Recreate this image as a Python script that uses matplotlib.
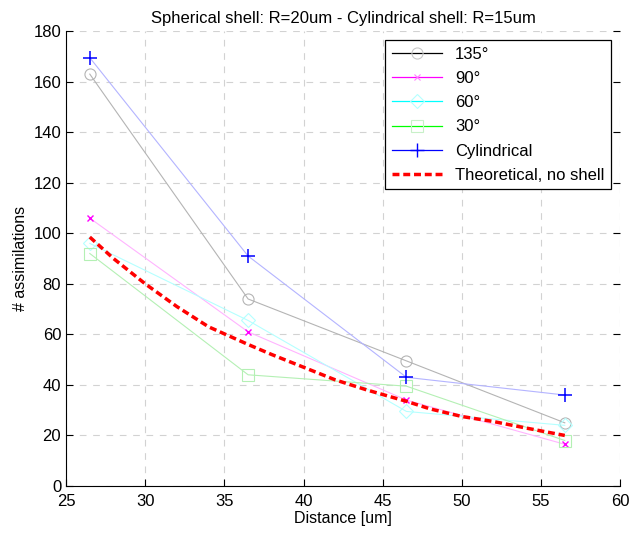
import matplotlib
matplotlib.use("Agg")
import matplotlib.pyplot as plt
from matplotlib.lines import Line2D

# distances of the simulated points
dist = [26.5, 36.5, 46.5, 56.5]

# number of assimilations per shell angle
deg135 = [163, 74, 49.5, 25]
deg90 = [106, 61, 34, 16.5]
deg60 = [96, 65.5, 29.5, 24]
deg30 = [92, 44, 39.5, 18]
cylindrical = [169.5, 91, 43, 36]

# theoretical curve (no shell)
theo_x = [26.5, 28, 30, 32, 34, 36.5, 38, 40, 42, 44, 46.5, 48, 50, 52, 54, 56.5]
theo_y = [98.5, 90, 80, 71, 63, 56, 52, 47, 42, 38, 33.5, 30.5, 27.5, 25.5, 23, 20]

labels = ["135°", "90°", "60°", "30°", "Cylindrical", "Theoretical, no shell"]

plt.rcParams["font.family"] = ["Liberation Sans", "DejaVu Sans"]
plt.rcParams["font.size"] = 11

fig = plt.figure(figsize=(6.29, 5.37), dpi=100)
ax = fig.add_axes([0.105, 0.095, 0.881, 0.847])

# faded lines, as in the original export
ax.plot(dist, deg135, color="#b4b4b4", lw=0.8, marker="o", ms=8,
        mfc="none", mec="#b4b4b4", mew=0.8)
ax.plot(dist, deg90, color="#ffb4ff", lw=0.8, marker="x", ms=4,
        mec="#ff00ff", mew=1.0)
ax.plot(dist, deg60, color="#b4ffff", lw=0.8, marker="D", ms=7,
        mfc="none", mec="#b4ffff", mew=0.8)
ax.plot(dist, deg30, color="#b4f0b4", lw=0.8, marker="s", ms=8,
        mfc="none", mec="#b4f0b4", mew=0.8)
ax.plot(dist, cylindrical, color="#b4b4ff", lw=0.8, marker="+", ms=10,
        mec="#0000ff", mew=1.1)
ax.plot(theo_x, theo_y, color="#ff0000", lw=2.5, ls=(0, (2, 1.1)))

handles = [
    Line2D([], [], color="black", lw=0.9, marker="o", ms=8, mfc="none",
           mec="#c8c8c8", mew=0.8),
    Line2D([], [], color="#ff00ff", lw=0.9, marker="x", ms=4,
           mec="#ff80ff", mew=0.8),
    Line2D([], [], color="#00ffff", lw=0.9, marker="D", ms=7, mfc="none",
           mec="#b4ffff", mew=0.8),
    Line2D([], [], color="#00ff00", lw=0.9, marker="s", ms=8, mfc="none",
           mec="#c8f0c8", mew=0.8),
    Line2D([], [], color="#0000ff", lw=0.9, marker="+", ms=10,
           mec="#0000ff", mew=1.0),
    Line2D([], [], color="#ff0000", lw=2.5, ls=(0, (2, 1.1))),
]
leg = ax.legend(handles, labels, loc="upper right", fontsize=12,
                fancybox=False, framealpha=1, edgecolor="black",
                handlelength=3.0, borderaxespad=0.55, labelspacing=0.55)
leg.get_frame().set_linewidth(0.9)

ax.set_xlim(25, 60)
ax.set_ylim(0, 180)
ax.set_xticks(range(25, 61, 5))
ax.set_yticks(range(0, 181, 20))
ax.grid(True, color="#d2d2d2", ls=(0, (6, 6)), lw=0.8)
ax.set_axisbelow(True)
ax.spines["top"].set_visible(False)
ax.spines["right"].set_visible(False)
ax.tick_params(direction="in", length=5, right=True, labelsize=12)
ax.tick_params(axis="x", pad=6)

ax.set_title("Spherical shell: R=20um - Cylindrical shell: R=15um", fontsize=12)
ax.set_xlabel("Distance [um]", fontsize=11.5, labelpad=1)
ax.set_ylabel("# assimilations", fontsize=11.5)

fig.savefig("out.png", dpi=100)
